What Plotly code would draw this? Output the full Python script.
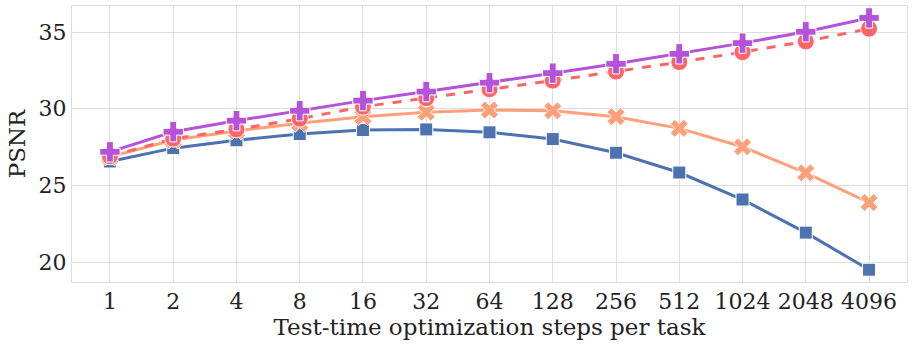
import plotly.graph_objects as go

steps = ["1", "2", "4", "8", "16", "32", "64", "128", "256", "512", "1024", "2048", "4096"]

psnr_square = [26.56, 27.43, 27.94, 28.35, 28.61, 28.65, 28.46, 28.02, 27.13, 25.84, 24.08, 21.92, 19.5]
psnr_x = [26.86, 27.96, 28.55, 29.05, 29.48, 29.77, 29.92, 29.87, 29.48, 28.72, 27.52, 25.82, 23.88]
psnr_circle = [26.9, 28.05, 28.65, 29.35, 30.13, 30.68, 31.27, 31.83, 32.42, 33.04, 33.69, 34.39, 35.22]
psnr_plus = [27.19, 28.5, 29.22, 29.87, 30.53, 31.12, 31.7, 32.32, 32.93, 33.58, 34.28, 35.02, 35.92]

FONT = "DejaVu Serif"

series = [
    (psnr_square, "#4C72B0", "square", 13, "solid"),
    (psnr_x, "#FFA07A", "x", 16, "solid"),
    (psnr_circle, "#FF6468", "circle", 17, "dash"),
    (psnr_plus, "#B452D9", "cross", 17, "solid"),
]

xs = list(range(len(steps)))

fig = go.Figure()
for vals, color, sym, size, dash in series:
    fig.add_trace(go.Scatter(
        x=xs, y=vals, mode="lines+markers",
        line=dict(color=color, width=3, dash=dash),
        marker=dict(symbol=sym, size=size, color=color,
                    line=dict(color="white", width=1)),
        showlegend=False))

fig.update_layout(
    width=913, height=348,
    margin=dict(l=72, r=6, t=6, b=66),
    paper_bgcolor="white", plot_bgcolor="white",
    font=dict(family=FONT, size=22, color="#222222"),
)
fig.update_xaxes(
    range=[-0.6, 12.6], tickmode="array", tickvals=xs, ticktext=steps,
    showgrid=True, gridcolor="#dddddd", gridwidth=1,
    showline=True, linecolor="#dddddd", mirror=True, zeroline=False,
    ticks="", tickfont=dict(size=22), automargin=False,
    title=dict(text="Test-time optimization steps per task", font=dict(size=23), standoff=4),
)
fig.update_yaxes(
    range=[18.7, 36.7], tickvals=[20, 25, 30, 35],
    showgrid=True, gridcolor="#dddddd", gridwidth=1,
    showline=True, linecolor="#dddddd", mirror=True, zeroline=False,
    ticks="", tickfont=dict(size=22), automargin=False,
    title=dict(text="PSNR", font=dict(size=23), standoff=6),
)

# drop the browser's default body margin so the figure sits at (0, 0)
fig.write_html("out.html", config={"displayModeBar": False},
               post_script="document.body.style.margin='0';")
